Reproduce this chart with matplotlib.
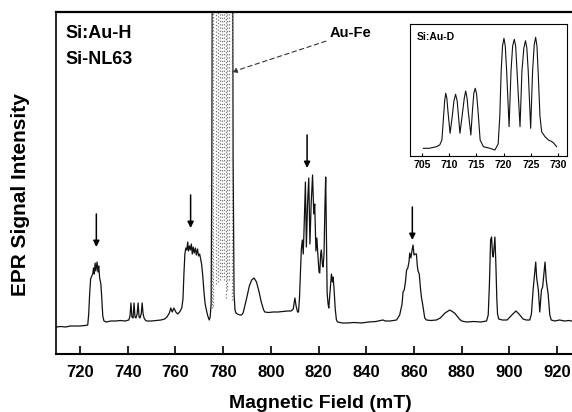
import matplotlib
matplotlib.use("Agg")
import matplotlib.pyplot as plt

plt.rcParams['font.family'] = ['Liberation Sans', 'DejaVu Sans']
plt.rcParams['font.weight'] = 'bold'

# ---- main spectrum (Magnetic field in mT, intensity in arbitrary units) ----
field = [710.0, 712, 714, 716, 718, 720, 722, 723.3, 723.7, 724.1, 724.5, 725.0, 725.4, 725.7, 726.0,
         726.4, 726.7, 727.2, 727.6, 727.9, 728.3, 728.8, 729.2, 729.6, 730.1, 731, 733, 735, 737, 739,
         740.5, 741.0, 741.4, 741.8, 742.3, 742.7, 743.1, 743.5, 744.0, 744.4, 744.8, 745.2, 745.7, 746.1,
         746.5, 746.9, 747.4, 748, 750, 752, 754, 755.5, 756.5, 757.5, 758.1, 758.7, 759.4, 760.2, 761,
         761.8, 762.7, 763.2, 763.6, 764.0, 764.4, 764.8, 765.2, 765.5, 765.9, 766.3, 766.7, 767.1, 767.5,
         767.9, 768.4, 768.8, 769.3, 769.7, 770.2, 770.6, 771.0, 771.5, 772, 772.5, 773.0, 773.6, 774.2,
         774.6, 775.0, 775.3, 775.5, 784.0, 784.2, 784.6, 785.0, 785.4, 786, 787, 787.7, 788.4, 789, 790,
         791, 792, 793, 794, 795, 796, 797, 797.5, 799, 801, 803, 805, 807, 808.5, 809.4, 810.1, 810.6,
         811.2, 811.6, 812.0, 812.4, 812.8, 813.2, 813.6, 814.0, 814.5, 814.9, 815.4, 815.9, 816.4, 816.9,
         817.5, 818.0, 818.4, 818.9, 819.3, 819.7, 820.2, 820.5, 820.9, 821.2, 821.6, 821.9, 822.3, 822.7,
         823.0, 823.3, 823.6, 824.0, 824.3, 824.8, 825.4, 825.8, 826.1, 826.5, 827.0, 827.5, 828, 830, 832,
         835, 838, 841, 844, 847, 848, 850, 852.7, 854, 855, 855.4, 855.9, 856.4, 856.9, 857.4, 857.9,
         858.2, 858.7, 859.2, 859.6, 860.0, 860.5, 861.0, 861.4, 861.7, 862.2, 862.7, 863.1, 863.6, 864.1,
         864.5, 865.2, 867, 869.4, 871, 873, 875, 877, 879, 880, 882, 885, 888, 890.4, 891.1, 891.6, 892.1,
         892.5, 892.9, 893.2, 893.5, 893.9, 894.3, 894.7, 895, 895.5, 897, 899, 901, 902.7, 904, 905.7, 907,
         908.5, 909.2, 909.9, 910.3, 911, 911.4, 912.1, 912.7, 913.4, 913.9, 914.9, 915.4, 916.2, 916.9,
         917.5, 919, 921, 923, 925, 926]
signal = [27, 27.5, 27, 28, 28, 28, 28.5, 29, 40, 60, 75, 78, 80, 86, 80,
          91, 83, 92, 82, 88, 76, 70, 55, 38, 33, 32, 33, 33, 33.5, 33,
          34, 38, 51, 37, 36, 51, 37, 36, 40, 51, 37, 36, 40, 51,
          40, 36, 34, 33, 33, 33.5, 34, 35, 37, 41, 46, 42, 46, 42, 40,
          42, 46, 55, 80, 100, 106, 104, 112, 103, 108, 104, 110, 100, 107,
          101, 106, 99, 105, 98, 100, 95, 90, 78, 62, 50, 44, 38, 34,
          37, 50, 200, 400, 400, 200, 60, 44, 41, 40, 39, 39, 41, 47, 57,
          68, 74, 76, 72, 63, 52, 44, 42, 41.5, 42, 42, 42.5, 43, 43, 45, 56, 48,
          42, 42, 55, 80, 105, 114, 100, 130, 172, 107, 150, 176, 110, 150,
          179, 140, 150, 103, 116, 100, 82, 81, 100, 104, 90, 87, 100, 150,
          177, 120, 61, 50, 46, 62, 80, 72, 77, 65, 45, 34, 32, 31, 31,
          31.5, 31, 32, 32.5, 34, 33, 33, 34, 39, 50, 62, 64, 72, 84, 86, 92,
          101, 96, 104, 109, 99, 100, 100, 88, 83, 80, 66, 57, 50, 42,
          36, 34, 33.5, 34, 36, 41, 44, 41, 35, 33, 32, 32.5, 32, 33, 39, 70, 114,
          117, 100, 97, 105, 117, 90, 55, 40, 35, 34, 34, 39, 43, 40, 35, 34,
          34, 40, 64, 74, 92, 76, 64, 42, 64, 67, 92, 74, 60, 39,
          34, 33, 34, 33, 33.5, 33]

# Au-Fe lines (off scale), field positions and lower ends
aufe_field = [775.3, 775.8, 776.9, 777.9, 778.6, 779.6, 780.5, 781.2, 781.7, 782.6, 783.6]
aufe_low = [46, 48, 70, 72, 74, 77, 74, 56, 64, 74, 54]

# marked lines (arrows)
arrow_field = [726.9, 766.4, 815.2, 859.3]
arrow_tip = [107, 126, 186, 114]

xticks = [720, 740, 760, 780, 800, 820, 840, 860, 880, 900, 920]

# ---- inset Si:Au-D ----
inset_field = [705.3, 706.4, 707.7, 708.3, 708.7, 709.0, 709.2, 709.4, 709.6, 709.8, 710.2, 710.6,
               710.9, 711.2, 711.5, 711.7, 712.0, 712.4, 712.8, 713.05, 713.3, 713.5, 714.0, 714.3,
               714.55, 714.8, 715.05, 715.3, 715.7, 716.3, 717.5, 718.4, 719.0, 719.3, 719.55, 719.8,
               720.06, 720.3, 720.55, 721.0, 721.35, 721.65, 721.95, 722.2, 722.45, 723.0, 723.35, 723.7,
               724.0, 724.25, 724.5, 724.95, 725.3, 725.6, 725.86, 726.1, 726.35, 726.65, 726.96,
               727.57, 728.2, 728.8, 729.2, 729.7]
inset_signal = [7.7, 7.7, 9.3, 11, 16, 39, 55, 62.7, 58, 45, 22.7, 40,
                55, 61.7, 55, 42, 22.7, 40, 58, 65, 58, 46, 21, 46,
                63, 67.7, 62, 46, 16, 9.3, 7.7, 6, 12, 40, 85, 110,
                117.7, 110, 85, 29.3, 85, 110, 116.7, 110, 85, 29.3, 85, 108,
                115.3, 108, 85, 27.7, 85, 111, 118.7, 110, 80, 40, 24.3,
                19.3, 16, 14.5, 12.7, 9.3]
inset_xticks = [705, 710, 715, 720, 725, 730]

W, H = 572, 412
fig = plt.figure(figsize=(W / 100, H / 100), dpi=100)

ax = fig.add_axes([56 / W, (H - 354) / H, (W - 56) / W, (354 - 12) / H])
ax.plot(field, signal, color='#111111', lw=0.9)
ax.vlines(aufe_field, aufe_low, 500, colors='#777777', linestyles=':', lw=0.9)
for xf, yt in zip(arrow_field, arrow_tip):
    ax.annotate('', xy=(xf, yt), xytext=(xf, yt + 33),
                arrowprops=dict(arrowstyle='-|>', lw=1.1, color='k', mutation_scale=9,
                                shrinkA=0, shrinkB=0))
ax.set_xlim(710, 926.2)
ax.set_ylim(0, 342)
ax.set_xticks(xticks)
ax.set_xticklabels([str(t) for t in xticks], fontsize=12, fontweight='bold')
ax.set_yticks([])
ax.tick_params(axis='x', direction='in', length=6, width=1.2, pad=8)
ax.spines['right'].set_visible(False)
ax.spines['top'].set_linewidth(1.6)
ax.spines['bottom'].set_linewidth(1.5)
ax.spines['left'].set_linewidth(1.2)

fig.text(65 / W, 1 - 33 / H, 'Si:Au-H', fontsize=13, fontweight='bold', va='center', ha='left')
fig.text(65 / W, 1 - 59 / H, 'Si-NL63', fontsize=13, fontweight='bold', va='center', ha='left')
ax.annotate('Au-Fe', xy=(783.7, 282), xytext=(330 / W, 1 - 33 / H), textcoords='figure fraction',
            fontsize=10.5, fontweight='bold', va='center', ha='left',
            arrowprops=dict(arrowstyle='-|>', lw=0.8, ls=(0, (4, 3)), color='#333333',
                            mutation_scale=7, shrinkA=1, shrinkB=0))

fig.text(320 / W, 1 - 403 / H, 'Magnetic Field (mT)', fontsize=14, fontweight='bold',
         ha='center', va='center')
fig.text(21 / W, 1 - 195 / H, 'EPR Signal Intensity', fontsize=15, fontweight='bold',
         ha='center', va='center', rotation=90)

# inset
axi = fig.add_axes([410 / W, (H - 156) / H, 157 / W, 132 / H])
axi.plot(inset_field, inset_signal, color='#111111', lw=0.8)
axi.set_xlim(702.86, 731.6)
axi.set_ylim(0, 132)
axi.set_xticks(inset_xticks)
axi.set_xticklabels([str(t) for t in inset_xticks], fontsize=7.5, fontweight='bold')
axi.set_yticks([])
axi.tick_params(axis='x', direction='in', length=2.5, width=0.8, pad=3)
for s in axi.spines.values():
    s.set_linewidth(0.8)
axi.text(0.04, 0.9, 'Si:Au-D', transform=axi.transAxes, fontsize=7.5, fontweight='bold',
         ha='left', va='center')

fig.savefig('out.png', dpi=100)
